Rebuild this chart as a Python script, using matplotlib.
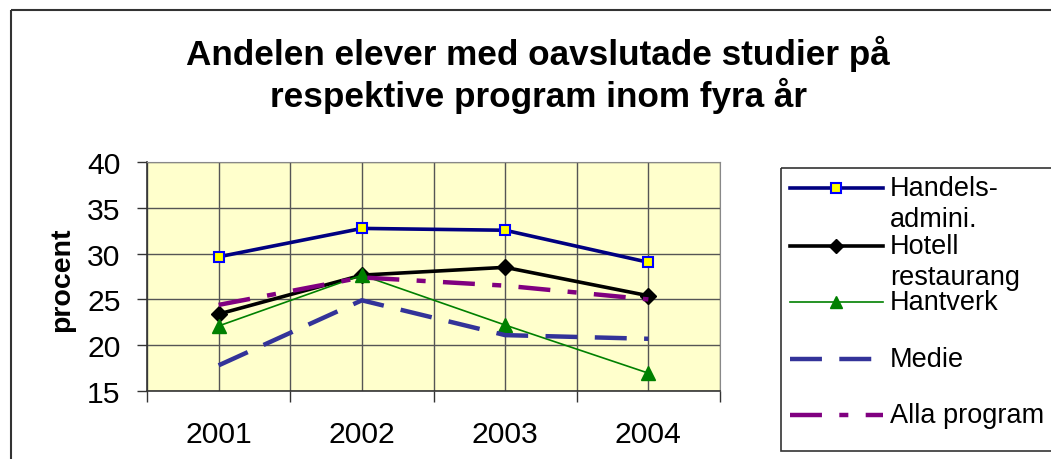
import matplotlib
matplotlib.use("Agg")
import matplotlib.pyplot as plt
from matplotlib.lines import Line2D
from matplotlib.patches import Rectangle

plt.rcParams['font.family'] = ['Liberation Sans', 'DejaVu Sans']
plt.rcParams['lines.scale_dashes'] = False

years = ['2001', '2002', '2003', '2004']
series_names = ['Handels-\nadmini.', 'Hotell\nrestaurang', 'Hantverk', 'Medie', 'Alla program']
handels = [29.65, 32.75, 32.55, 29.05]
hotell = [23.4, 27.65, 28.5, 25.4]
hantverk = [22.1, 27.65, 22.2, 16.95]
medie = [17.8, 24.9, 21.1, 20.7]
alla = [24.4, 27.4, 26.5, 25.0]
yticks = [15, 20, 25, 30, 35, 40]

styles = [
    dict(color='#000080', lw=2.6, marker='s', ms=7.5, mfc='#FFFF00', mec='#0000FF', mew=1.5, ls='-'),
    dict(color='#000000', lw=2.6, marker='D', ms=8, mfc='#000000', mec='#000000', ls='-'),
    dict(color='#008000', lw=1.2, marker='^', ms=10, mfc='#008000', mec='#008000', ls='-'),
    dict(color='#333399', lw=3.2, ls=(0, (23, 12.5))),
    dict(color='#800080', lw=3.2, ls=(0, (23, 12.5, 6.5, 12.5))),
]
data = [handels, hotell, hantverk, medie, alla]

W, H = 1051, 460
fig = plt.figure(figsize=(W / 100, H / 100), dpi=100)

# main axes in pixel layout
L, R, T, B = 147, 720, 163, 392
ax = fig.add_axes([L / W, 1 - B / H, (R - L) / W, (B - T) / H])
ax.set_facecolor('#FFFFCC')
x = list(range(len(years)))
for vals, st in zip(data, styles):
    ax.plot(x, vals, **st, zorder=3)

ax.set_xlim(-0.5, len(years) - 0.5)
ax.set_ylim(15, 40)
ax.set_yticks(yticks)
ax.set_yticklabels([str(v) for v in yticks], fontsize=21.7)
ax.set_xticks(x)
ax.set_xticklabels(years, fontsize=21.7)
ax.set_xticks([i - 0.5 for i in range(len(years) + 1)], minor=True)
ax.tick_params(axis='x', which='major', length=0, pad=21)
ax.tick_params(axis='x', which='minor', length=8, width=1, color='#333333', direction='out')
ax.tick_params(axis='y', which='major', length=7, width=1, color='#333333', pad=12)
ax.grid(True, which='major', axis='y', color='#555555', lw=1, zorder=1)
ax.grid(True, which='both', axis='x', color='#555555', lw=1, zorder=1)
for s in ['top', 'right']:
    ax.spines[s].set_color('#888888')
for s in ['left', 'bottom']:
    ax.spines[s].set_color('#333333')
    ax.spines[s].set_linewidth(1.2)

# overlay axes in pixel coordinates for frame, title, legend
ov = fig.add_axes([0, 0, 1, 1], zorder=5)
ov.set_xlim(0, W)
ov.set_ylim(H, 0)
ov.axis('off')
ov.patch.set_alpha(0)
ov.add_patch(Rectangle((11, 11), W + 20, H + 20, fill=False, ec='#333333', lw=1.5))

ov.text(538, 75, 'Andelen elever med oavslutade studier på\nrespektive program inom fyra år',
        ha='center', va='center', fontsize=25.3, fontweight='bold', linespacing=1.2)
ov.text(62, 280, 'procent', rotation=90, ha='center', va='center', fontsize=20.5, fontweight='bold')

# legend
ov.add_patch(Rectangle((781, 169), 400, 283, fill=False, ec='#333333', lw=1.2))
leg_y = [189, 247, 303, 360, 416]
for name, st, yy in zip(series_names, styles, leg_y):
    ln = Line2D([790, 883], [yy, yy], color=st['color'], lw=st['lw'], ls=st['ls'])
    ov.add_line(ln)
    if 'marker' in st:
        ov.plot([836], [yy], marker=st['marker'], ms=st['ms'] * 0.9, mfc=st['mfc'],
                mec=st['mec'], mew=st.get('mew', 1), ls='none')
    for k, part in enumerate(name.split('\n')):
        ov.text(890, yy + k * 31, part, ha='left', va='center', fontsize=19.5)

fig.savefig('out.png', dpi=100)
